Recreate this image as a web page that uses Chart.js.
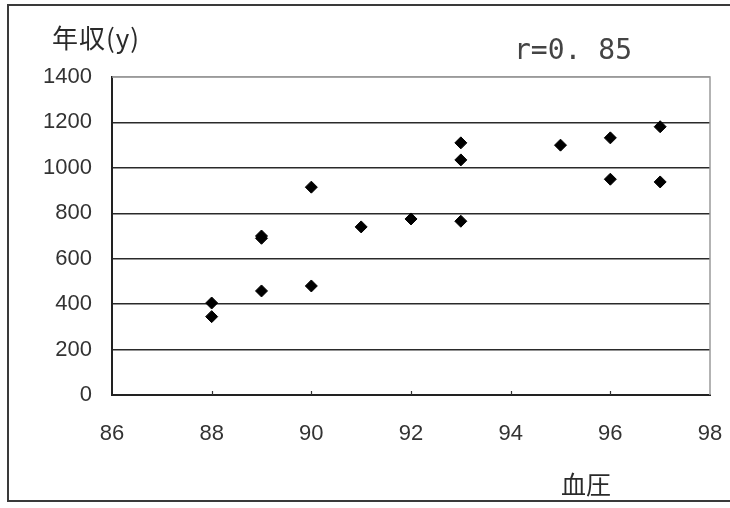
<!DOCTYPE html>
<html>
<head>
<meta charset="utf-8">
<script src="https://cdn.jsdelivr.net/npm/chart.js@4/dist/chart.umd.min.js"></script>
<style>
  html, body { margin: 0; padding: 0; background: #fff; }
  #wrap { position: relative; width: 730px; height: 508px; overflow: hidden; }
  #frame { position: absolute; left: 7px; top: 4px; width: 740px; height: 498px; border: 2px solid #3a3a3a; box-sizing: border-box; pointer-events: none; }
  canvas { position: absolute; left: 0; top: 0; }
</style>
</head>
<body>
<div id="wrap">
  <canvas id="c" width="730" height="508"></canvas>
  <div id="frame"></div>
</div>
<script>
// Data
const bloodPressure = [88, 88, 89, 89, 89, 90, 90, 91, 92, 93, 93, 93, 95, 96, 96, 97, 97];
const income        = [405, 345, 458, 700, 690, 480, 915, 740, 775, 765, 1035, 1110, 1100, 1132, 950, 1181, 938];
const xTicks = [86, 88, 90, 92, 94, 96, 98];
const yTicks = [0, 200, 400, 600, 800, 1000, 1200, 1400];
const yAxisLabel = '年収(y)';
const xAxisLabel = '血圧';
const corrLabel = 'r=0. 85';

const points = bloodPressure.map((x, i) => ({ x: x, y: income[i] }));

const textPlugin = {
  id: 'labels',
  afterDatasetsDraw(chart) {
    const ctx = chart.ctx;
    const a = chart.chartArea;
    const xs = chart.scales.x;
    ctx.save();
    // right & top borders of plot area
    ctx.strokeStyle = '#9a9a9a';
    ctx.lineWidth = 1.5;
    ctx.beginPath();
    ctx.moveTo(a.left, a.top);
    ctx.lineTo(a.right, a.top);
    ctx.lineTo(a.right, a.bottom);
    ctx.stroke();
    // small inward tick marks on x axis
    ctx.strokeStyle = '#333';
    ctx.lineWidth = 1.2;
    ctx.beginPath();
    xTicks.slice(1, -1).forEach(v => {
      const px = Math.round(xs.getPixelForValue(v)) + 0.5;
      ctx.moveTo(px, a.bottom);
      ctx.lineTo(px, a.bottom - 4);
    });
    ctx.stroke();
    ctx.fillStyle = '#2a2a2a';
    ctx.textBaseline = 'alphabetic';
    ctx.textAlign = 'left';
    ctx.font = '26px "Noto Sans CJK JP", sans-serif';
    if ('letterSpacing' in ctx) ctx.letterSpacing = '1px';
    ctx.fillText(yAxisLabel, 52, 48);
    if ('letterSpacing' in ctx) ctx.letterSpacing = '0px';
    ctx.fillStyle = '#444';
    ctx.font = '28px "DejaVu Sans Mono", monospace';
    ctx.fillText(corrLabel, 514, 59);
    ctx.fillStyle = '#2a2a2a';
    ctx.font = '25px "Noto Sans CJK JP", sans-serif';
    ctx.fillText(xAxisLabel, 561, 494);
    ctx.restore();
  }
};

new Chart(document.getElementById('c'), {
  type: 'scatter',
  data: {
    datasets: [{
      data: points,
      pointStyle: 'rectRot',
      pointRadius: 6,
      pointHoverRadius: 6,
      backgroundColor: '#000',
      borderColor: '#000',
      borderWidth: 1
    }]
  },
  options: {
    responsive: false,
    animation: false,
    devicePixelRatio: 1,
    layout: { padding: { left: 0, top: 77, right: 0, bottom: 0 } },
    plugins: { legend: { display: false }, tooltip: { enabled: false } },
    scales: {
      x: {
        type: 'linear',
        min: 86, max: 98,
        afterBuildTicks: s => { s.ticks = xTicks.map(v => ({ value: v })); },
        afterFit: s => { s.height = 113; s.paddingRight = 20; s.paddingLeft = 0; },
        border: { display: true, color: '#222', width: 2 },
        grid: { display: true, drawOnChartArea: false, drawTicks: false, color: '#222' },
        ticks: {
          padding: 26,
          color: '#333',
          font: { family: '"Liberation Sans", Arial, sans-serif', size: 22 },
          callback: v => String(v)
        }
      },
      y: {
        type: 'linear',
        min: 0, max: 1400,
        afterBuildTicks: s => { s.ticks = yTicks.map(v => ({ value: v })); },
        afterFit: s => { s.width = 112; },
        border: { display: true, color: '#222', width: 2 },
        grid: {
          drawTicks: false,
          lineWidth: 1.5,
          color: c => (c.tick && c.tick.value === 1400) ? '#9a9a9a' : '#2a2a2a'
        },
        ticks: {
          padding: 20,
          color: '#333',
          font: { family: '"Liberation Sans", Arial, sans-serif', size: 22 },
          callback: v => String(v)
        }
      }
    }
  },
  plugins: [textPlugin]
});
</script>
</body>
</html>
